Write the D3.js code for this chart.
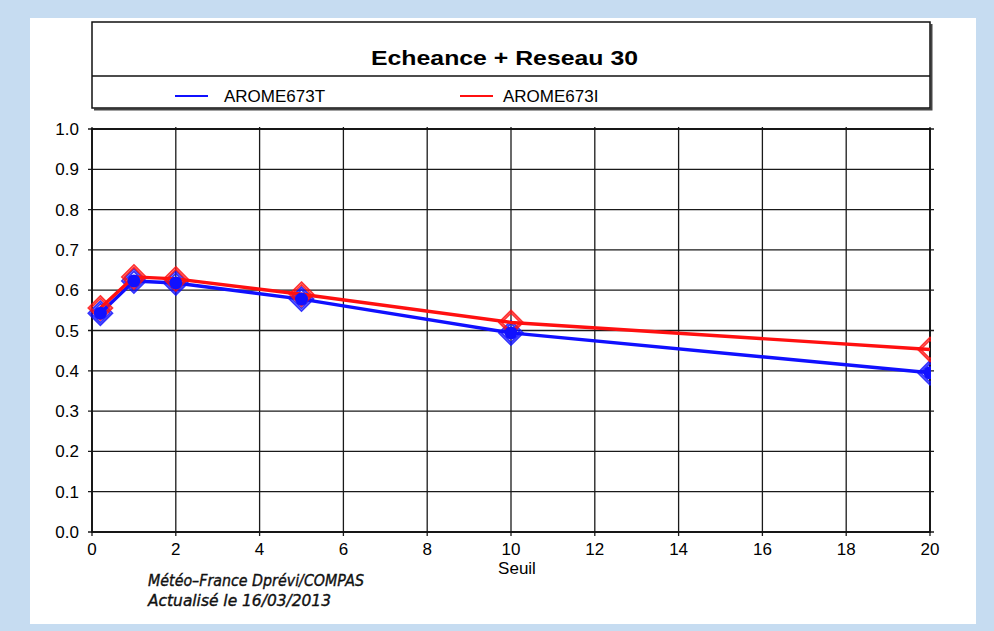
<!DOCTYPE html>
<html>
<head>
<meta charset="utf-8">
<script src="https://cdn.jsdelivr.net/npm/d3@7"></script>
<style>
  html, body { margin: 0; padding: 0; background: #c6dcf1; }
  svg { display: block; }
</style>
</head>
<body>
<svg id="svg"></svg>
<script>
////////////////////////////////////////////////////////////////////////
// Data

let seuils = [0.2, 1, 2, 5, 10, 20];
let arome673T = [0.543, 0.623, 0.618, 0.578, 0.494, 0.395];
let arome673I = [0.556, 0.633, 0.628, 0.590, 0.520, 0.453];
let seriesNames = ["AROME673T", "AROME673I"];
let seriesColors = ["#1010ff", "#ff1010"];
let xTicks = [0, 2, 4, 6, 8, 10, 12, 14, 16, 18, 20];
let yTicks = [0, 0.1, 0.2, 0.3, 0.4, 0.5, 0.6, 0.7, 0.8, 0.9, 1.0];
let titleText = "Echeance + Reseau 30";
let footerLines = ["Météo–France Dprévi/COMPAS", "Actualisé le 16/03/2013"];

let series = [
  { name: seriesNames[0], color: seriesColors[0], values: arome673T, dot: true },
  { name: seriesNames[1], color: seriesColors[1], values: arome673I, dot: false }
];

////////////////////////////////////////////////////////////////////////
// Layout

let winWidth = 994, winHeight = 631;
let svg = d3.select("#svg").attr("width", winWidth).attr("height", winHeight);

// white panel
svg.append("rect")
   .attr("x", 30).attr("y", 18).attr("width", 946).attr("height", 606)
   .attr("fill", "white");

let x = d3.scaleLinear().domain([0, 20]).range([92, 930]);
let y = d3.scaleLinear().domain([0, 1]).range([532, 129]);

let tickFont = "'Liberation Sans', Arial, sans-serif";

// title / legend box
let box = { x1: 92, y1: 22, x2: 930, y2: 108 };
svg.append("path")
   .attr("d", `M${box.x2 + 1.5},${box.y1 + 2} V${box.y2 + 1.5} H${box.x1 + 2}`)
   .attr("fill", "none").attr("stroke", "#444").attr("stroke-width", 2);
svg.append("rect")
   .attr("x", box.x1).attr("y", box.y1)
   .attr("width", box.x2 - box.x1).attr("height", box.y2 - box.y1)
   .attr("fill", "none").attr("stroke", "#111").attr("stroke-width", 1.5);
svg.append("line")
   .attr("x1", box.x1).attr("x2", box.x2).attr("y1", 76).attr("y2", 76)
   .attr("stroke", "#111").attr("stroke-width", 1.5);

svg.append("text")
   .attr("x", 371).attr("y", 65)
   .attr("font-family", tickFont).attr("font-weight", "bold").attr("font-size", 21)
   .attr("textLength", 267).attr("lengthAdjust", "spacingAndGlyphs")
   .text(titleText);

let legendX = [175, 460];
let legendTextX = [224, 503];
let lg = svg.selectAll("g.legend").data(series).enter().append("g").attr("class", "legend");
lg.append("line")
  .attr("x1", (d, i) => legendX[i]).attr("x2", (d, i) => legendX[i] + 33)
  .attr("y1", 96).attr("y2", 96)
  .attr("stroke", d => d.color).attr("stroke-width", 2);
lg.append("text")
  .attr("x", (d, i) => legendTextX[i]).attr("y", 102)
  .attr("font-family", tickFont).attr("font-size", 17)
  .text(d => d.name);

////////////////////////////////////////////////////////////////////////
// Grid and axes

let plot = svg.append("g");

plot.selectAll("line.vgrid").data(xTicks).enter().append("line")
    .attr("x1", d => x(d)).attr("x2", d => x(d))
    .attr("y1", y(1) - 2).attr("y2", y(0) + 4)
    .attr("stroke", "#1a1a1a").attr("stroke-width", 1.3);

plot.selectAll("line.hgrid").data(yTicks).enter().append("line")
    .attr("x1", x(0) - 4).attr("x2", x(20) + 4)
    .attr("y1", d => y(d)).attr("y2", d => y(d))
    .attr("stroke", "#1a1a1a").attr("stroke-width", 1.3);

plot.append("rect")
    .attr("x", x(0)).attr("y", y(1))
    .attr("width", x(20) - x(0)).attr("height", y(0) - y(1))
    .attr("fill", "none").attr("stroke", "#111").attr("stroke-width", 1.8);

plot.selectAll("text.ytick").data(yTicks).enter().append("text")
    .attr("x", 79).attr("y", d => y(d) + 6)
    .attr("text-anchor", "end")
    .attr("font-family", tickFont).attr("font-size", 17)
    .text(d => d3.format(".1f")(d));

plot.selectAll("text.xtick").data(xTicks).enter().append("text")
    .attr("x", d => x(d)).attr("y", y(0) + 23)
    .attr("text-anchor", "middle")
    .attr("font-family", tickFont).attr("font-size", 17)
    .text(d => d);

svg.append("text")
   .attr("x", 517).attr("y", 574)
   .attr("text-anchor", "middle")
   .attr("font-family", tickFont).attr("font-size", 17)
   .text("Seuil");

////////////////////////////////////////////////////////////////////////
// Series

let line = d3.line().x(d => x(d[0])).y(d => y(d[1]));
let diamond = (cx, cy, r) => `M${cx},${cy - r} L${cx + r},${cy} L${cx},${cy + r} L${cx - r},${cy} Z`;

let clip = svg.append("clipPath").attr("id", "plotclip");
clip.append("rect").attr("x", 30).attr("y", 18).attr("width", x(20) - 30 + 1).attr("height", 606);

let sg = svg.selectAll("g.series").data(series).enter().append("g")
            .attr("class", "series").attr("clip-path", "url(#plotclip)");

sg.append("path")
  .attr("d", d => line(seuils.map((s, i) => [s, d.values[i]])))
  .attr("fill", "none").attr("stroke", d => d.color).attr("stroke-width", 3.4)
  .attr("stroke-linejoin", "round");

sg.each(function(d) {
  let g = d3.select(this);
  let pts = seuils.map((s, i) => [x(s), y(d.values[i])]);
  [12, 9.5].forEach(r => {
    g.selectAll(null).data(pts).enter().append("path")
     .attr("d", p => diamond(p[0], p[1], r))
     .attr("fill", "none").attr("stroke", d.color).attr("stroke-width", 1.8)
     .attr("stroke-opacity", 0.85);
  });
});

// filled dots of the first series sit on top of everything
let dotGroup = svg.append("g").attr("clip-path", "url(#plotclip)");
series.filter(d => d.dot).forEach(d => {
  dotGroup.selectAll(null).data(seuils.map((s, i) => [x(s), y(d.values[i])])).enter()
    .append("circle")
    .attr("cx", p => p[0]).attr("cy", p => p[1]).attr("r", 6.5)
    .attr("fill", d.color);
});

////////////////////////////////////////////////////////////////////////
// Footer

svg.selectAll("text.footer").data(footerLines).enter().append("text")
   .attr("x", 148).attr("y", (d, i) => 586 + i * 20)
   .attr("font-family", "'DejaVu Sans', sans-serif").attr("font-style", "italic")
   .attr("font-size", 16).attr("stroke", "#111").attr("stroke-width", 0.4)
   .attr("fill", "#111")
   .attr("textLength", (d, i) => [216, 183][i]).attr("lengthAdjust", "spacingAndGlyphs")
   .text(d => d);
</script>
</body>
</html>
